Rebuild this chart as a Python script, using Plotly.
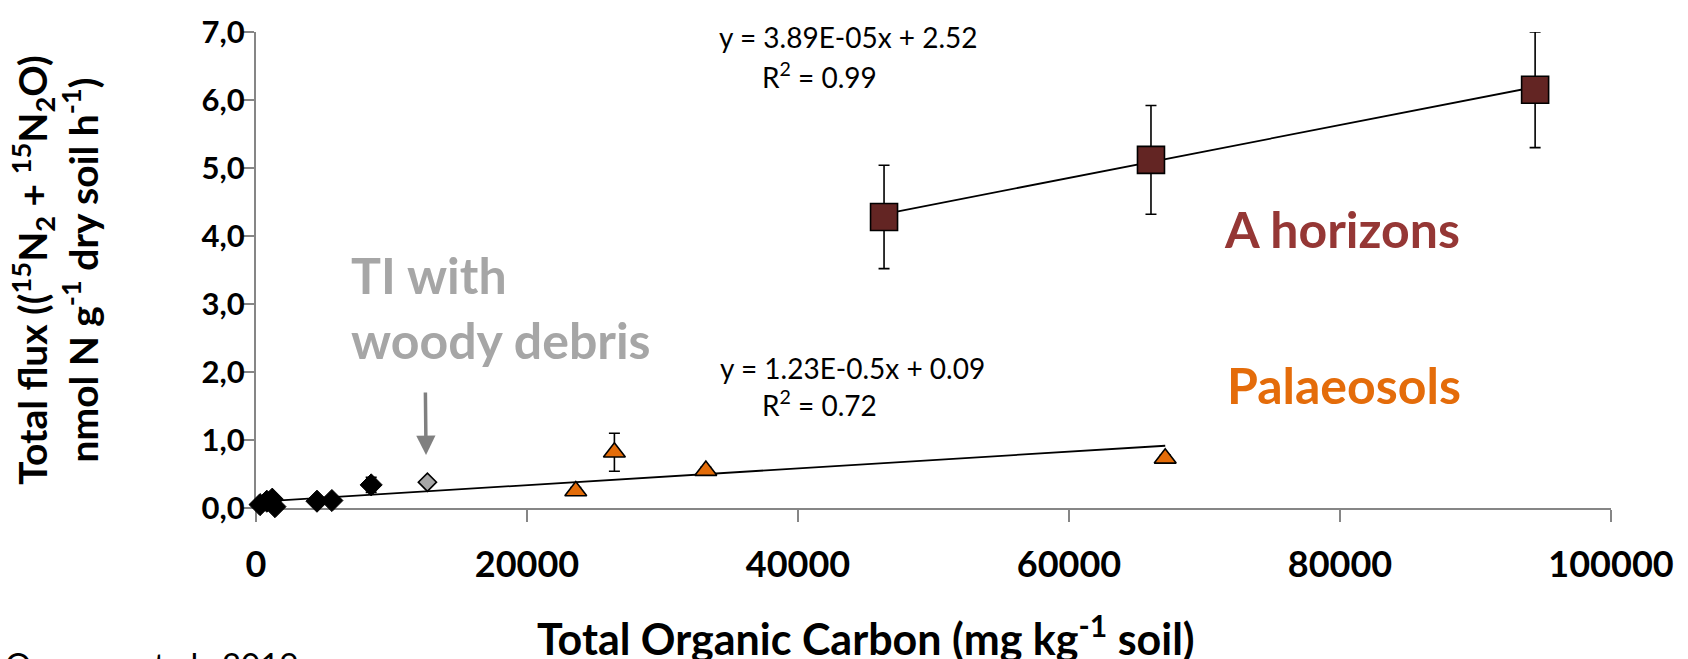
import plotly.graph_objects as go

# ---- data -------------------------------------------------------------
# TI soils (black diamonds)
ti_toc = [300, 800, 1200, 1400, 4500, 5600, 8500]
ti_flux = [0.05, 0.10, 0.13, 0.02, 0.10, 0.11, 0.34]
ti_err = [0, 0, 0, 0, 0, 0, 0.11]

# TI with woody debris (grey diamond)
wd_toc = [12650]
wd_flux = [0.38]

# Palaeosols (orange triangles)
pal_toc = [23600, 26450, 33200, 67100]
pal_flux = [0.25, 0.82, 0.55, 0.73]
pal_err = [0.05, 0.28, 0.05, 0.05]

# A horizons (maroon squares)
ah_toc = [46350, 66050, 94400]
ah_flux = [4.28, 5.12, 6.15]
ah_err = [0.76, 0.80, 0.85]

# linear fits as printed on the chart
ah_slope, ah_icpt = 3.89e-05, 2.52
pal_slope, pal_icpt = 1.23e-05, 0.09
pal_fit_x = [300, 67100]
ah_fit_x = [46350, 94400]

x_ticks = [0, 20000, 40000, 60000, 80000, 100000]
x_ticktext = ["0", "20000", "40000", "60000", "80000", "100000"]
y_ticks = [0, 1, 2, 3, 4, 5, 6, 7]
y_ticktext = ["0,0", "1,0", "2,0", "3,0", "4,0", "5,0", "6,0", "7,0"]

FONT = "Lato"
AXIS_GREY = "#868686"

fig = go.Figure()

err_style = dict(type="data", color="black", thickness=1.6, width=5.5)

# regression lines
fig.add_trace(go.Scatter(
    x=pal_fit_x, y=[pal_slope * v + pal_icpt for v in pal_fit_x],
    mode="lines", line=dict(color="black", width=1.8), hoverinfo="skip"))
fig.add_trace(go.Scatter(
    x=ah_fit_x, y=[ah_slope * v + ah_icpt for v in ah_fit_x],
    mode="lines", line=dict(color="black", width=1.8), hoverinfo="skip"))

fig.add_trace(go.Scatter(
    x=ti_toc, y=ti_flux, mode="markers", cliponaxis=False,
    error_y=dict(array=ti_err, **err_style),
    marker=dict(symbol="diamond", size=17, color="black",
                line=dict(color="black", width=1))))
fig.add_trace(go.Scatter(
    x=wd_toc, y=wd_flux, mode="markers", cliponaxis=False,
    marker=dict(symbol="diamond", size=14, color="#A6A6A6",
                line=dict(color="black", width=1.6))))
fig.add_trace(go.Scatter(
    x=pal_toc, y=pal_flux, mode="markers", cliponaxis=False,
    error_y=dict(array=pal_err, **err_style),
    marker=dict(symbol="triangle-up", size=19, color="#E36C09",
                line=dict(color="black", width=1.6))))
fig.add_trace(go.Scatter(
    x=ah_toc, y=ah_flux, mode="markers", cliponaxis=False,
    error_y=dict(array=ah_err, **err_style),
    marker=dict(symbol="square", size=27, color="#632523",
                line=dict(color="black", width=1.6))))

ann = []
eq_font = dict(family=FONT, size=28, color="black")
ann.append(dict(x=34000, y=6.92, xref="x", yref="y", xanchor="left", yanchor="middle",
                text="y = 3.89E-05x + 2.52", showarrow=False, font=eq_font))
ann.append(dict(x=37200, y=6.36, xref="x", yref="y", xanchor="left", yanchor="middle",
                text="R<sup>2</sup> = 0.99", showarrow=False, font=eq_font))
ann.append(dict(x=34100, y=2.06, xref="x", yref="y", xanchor="left", yanchor="middle",
                text="y = 1.23E-0.5x + 0.09", showarrow=False, font=eq_font))
ann.append(dict(x=37200, y=1.54, xref="x", yref="y", xanchor="left", yanchor="middle",
                text="R<sup>2</sup> = 0.72", showarrow=False, font=eq_font))

ann.append(dict(x=71300, y=4.11, xref="x", yref="y", xanchor="left", yanchor="middle",
                text="<b>A horizons</b>", showarrow=False,
                font=dict(family=FONT, size=50, color="#953735")))
ann.append(dict(x=71500, y=1.81, xref="x", yref="y", xanchor="left", yanchor="middle",
                text="<b>Palaeosols</b>", showarrow=False,
                font=dict(family=FONT, size=50, color="#E46C0A")))
ann.append(dict(x=6900, y=2.95, xref="x", yref="y", xanchor="left", yanchor="middle",
                align="left", text="<b>TI with<br>woody debris</b>", showarrow=False,
                font=dict(family=FONT, size=50, color="#A6A6A6")))
# arrow pointing at the woody-debris sample
ann.append(dict(x=12550, y=0.78, ax=12500, ay=1.72, xref="x", yref="y",
                axref="x", ayref="y", text="", showarrow=True,
                arrowhead=2, arrowsize=1.1, arrowwidth=3.5, arrowcolor="#808080"))

# axis titles
ann.append(dict(x=-0.1485, y=0.50, xref="paper", yref="paper", textangle=-90,
                xanchor="center", yanchor="middle", showarrow=False,
                text="<b>Total flux ((<sup>15</sup>N<sub>2</sub> + <sup>15</sup>N<sub>2</sub>O)<br>"
                     "nmol N g<sup>-1</sup> dry soil h<sup>-1</sup>)</b>",
                font=dict(family=FONT, size=39, color="black")))
ann.append(dict(x=0.45, y=-0.268, xref="paper", yref="paper",
                xanchor="center", yanchor="middle", showarrow=False,
                text="<b>Total Organic Carbon (mg kg<sup>-1</sup> soil)</b>",
                font=dict(family=FONT, size=43, color="black")))
# source line along the bottom edge
ann.append(dict(x=-0.187, y=-0.282, xref="paper", yref="paper",
                xanchor="left", yanchor="top", showarrow=False,
                text="Oenema et al., 2019",
                font=dict(family=FONT, size=33, color="black")))

fig.update_layout(
    width=1688, height=659,
    margin=dict(l=256, r=77, t=24, b=151),
    paper_bgcolor="white", plot_bgcolor="white",
    showlegend=False,
    annotations=ann,
    xaxis=dict(range=[0, 100000], tickvals=x_ticks, ticktext=x_ticktext,
               showgrid=False, zeroline=False, showline=True,
               linecolor=AXIS_GREY, linewidth=2, ticks="outside", ticklen=12,
               tickwidth=2, tickcolor=AXIS_GREY, layer="below traces",
               ticklabelstandoff=12,
               tickfont=dict(family=FONT, size=36, color="black", weight="bold")),
    yaxis=dict(range=[0, 7], tickvals=y_ticks, ticktext=y_ticktext,
               showgrid=False, zeroline=False, showline=True,
               linecolor=AXIS_GREY, linewidth=2, ticks="outside", ticklen=12,
               tickwidth=2, tickcolor=AXIS_GREY, layer="below traces",
               ticklabelstandoff=-9,
               tickfont=dict(family=FONT, size=31, color="black", weight="bold")),
)

fig.write_html("out.html")
